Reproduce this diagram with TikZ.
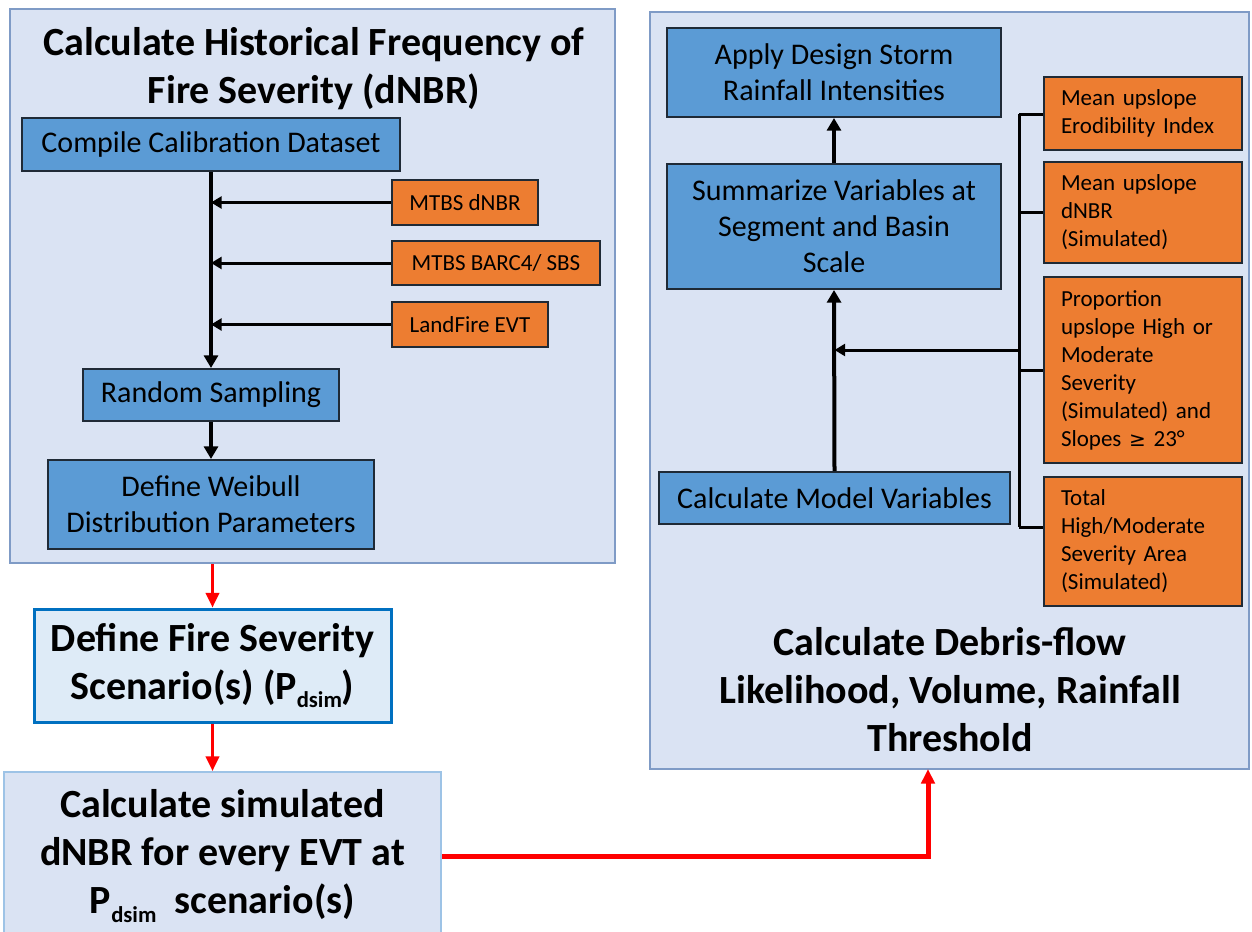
\documentclass[tikz,border=0pt]{standalone}
\usepackage{fontspec}
\setmainfont{Carlito}
\newfontfamily\symfont{DejaVu Sans}
\usetikzlibrary{arrows.meta}

\definecolor{panelfill}{HTML}{DAE3F3}
\definecolor{panelline}{HTML}{7F9BC6}
\definecolor{stepblue}{HTML}{5B9BD5}
\definecolor{steporange}{HTML}{ED7D31}
\definecolor{boxedge}{HTML}{1F2A36}
\definecolor{scenfill}{HTML}{DEEBF7}
\definecolor{scenline}{HTML}{0070C0}
\definecolor{simline}{HTML}{9DC3E6}
\definecolor{flowred}{HTML}{FF0000}

% lowered "dsim" index after P
\newcommand{\lowtxt}[1]{\raisebox{-0.45ex}{\fontsize{17pt}{17pt}\selectfont #1}}

\begin{document}
\begin{tikzpicture}[x=0.75pt,y=-0.75pt,
  panel/.style={draw=panelline, line width=1.5pt, fill=panelfill, inner sep=0pt},
  heading/.style={font=\fontsize{30pt}{36pt}\selectfont\bfseries, align=center, inner sep=0pt},
  stepbox/.style={draw=boxedge, line width=1.5pt, fill=stepblue, align=center,
    inner sep=0pt, font=\fontsize{22.5pt}{27pt}\selectfont},
  inputbox/.style={draw=boxedge, line width=1.5pt, fill=steporange, align=center,
    inner sep=0pt, font=\fontsize{17.25pt}{21pt}\selectfont},
  varbox/.style={inputbox, align=left, text width=123pt, inner xsep=12.75pt},
  feed/.style={-{Triangle[width=9pt,length=8pt]}, line width=2.25pt},
  flow/.style={-{Triangle[width=10.5pt,length=9.5pt]}, line width=3pt},
  bracket/.style={line width=2.25pt},
  redflow/.style={draw=flowred, -{Triangle[width=10pt,length=11pt]}, line width=2.25pt}
]
\useasboundingbox (0,0) rectangle (1252,931);
\fill[white] (0,0) rectangle (1252,931);

% ---------- left panel: historical fire severity ----------
\node[panel, minimum width=453.75pt, minimum height=415.5pt] (lpanel) at (312.5,286) {};
\node[heading] (ltitle) at (314,69) {Calculate Historical Frequency of\\Fire Severity (dNBR)};

\node[stepbox, minimum width=283.5pt, minimum height=39.75pt] (compile) at (211,144.5)
  {Compile Calibration Dataset};
\node[inputbox, minimum width=109.5pt, minimum height=33.75pt] (mtbs) at (465,202.5) {MTBS dNBR};
\node[inputbox, minimum width=156pt, minimum height=33pt] (barc) at (496,263) {MTBS BARC4/ SBS};
\node[inputbox, minimum width=117pt, minimum height=33.75pt] (evt) at (470,324.5) {LandFire EVT};
\node[stepbox, minimum width=192pt, minimum height=39pt] (random) at (211,395) {Random Sampling};
\node[stepbox, minimum width=244.5pt, minimum height=66.75pt] (weibull) at (211,504.5)
  {Define Weibull\\Distribution Parameters};

\draw[flow] (compile.south) -- (random.north);
\draw[feed] (mtbs.west) -- (compile.south |- mtbs.west);
\draw[feed] (barc.west) -- (compile.south |- barc.west);
\draw[feed] (evt.west) -- (compile.south |- evt.west);
\draw[flow] (random.south) -- (weibull.north);

% ---------- scenario boxes ----------
\node[draw=scenline, line width=2.25pt, fill=scenfill, heading,
  minimum width=267.75pt, minimum height=84.75pt] (fire) at (212.5,665.5)
  {Define Fire Severity\\Scenario(s) (P\lowtxt{dsim})};
\node[draw=simline, line width=1.5pt, fill=panelfill, heading,
  minimum width=327.75pt, minimum height=126pt] (sim) at (222.5,856)
  {Calculate simulated\\dNBR for every EVT at\\P\lowtxt{dsim}\ \ scenario(s)};

\draw[redflow] (fire.north |- lpanel.south) -- (fire.north);
\draw[redflow] (fire.south) -- (fire.south |- sim.north);

% ---------- right panel: debris-flow modelling ----------
\node[panel, minimum width=449.25pt, minimum height=567.75pt] (rpanel) at (949.5,390.5) {};
\node[heading] (rtitle) at (950,690) {Calculate Debris-flow\\Likelihood, Volume, Rainfall\\Threshold};

\node[stepbox, minimum width=250.5pt, minimum height=66.75pt] (apply) at (834,72.5)
  {Apply Design Storm\\Rainfall Intensities};
\node[stepbox, minimum width=250.5pt, minimum height=93.75pt] (summ) at (834,226.5)
  {Summarize Variables at\\Segment and Basin\\Scale};
\node[stepbox, minimum width=263.25pt, minimum height=39pt] (calcmv) at (834.5,498)
  {Calculate Model Variables};

\node[varbox, minimum height=54.75pt] (erod) at (1143,113.5)
  {Mean upslope\\Erodibility Index};
\node[varbox, minimum height=75.75pt] (mdnbr) at (1143,212.5)
  {Mean upslope\\dNBR\\(Simulated)};
\node[varbox, minimum height=139.5pt] (prop) at (1143,370)
  {Proportion\\upslope High or\\Moderate\\Severity\\(Simulated) and\\Slopes {\symfont\fontsize{15pt}{21pt}\selectfont ≥} 23°};
\node[varbox, minimum height=96.75pt] (area) at (1143,541.5)
  {Total\\High/Moderate\\Severity Area\\(Simulated)};

% bracket gathering the model variables
\coordinate (btop) at (1019,114);
\coordinate (bbot) at (1019,527);
\coordinate (bmid) at (1019,350);
\draw[bracket] (btop) -- (bbot);
\draw[bracket] (btop) -- (erod.west |- btop);
\draw[bracket] (btop |- mdnbr.west) -- (mdnbr.west);
\draw[bracket] (btop |- prop.west) -- (prop.west);
\draw[bracket] (bbot) -- (area.west |- bbot);
\draw[feed] (bmid) -- (calcmv.north |- bmid);

\draw[flow] (calcmv.north) -- (summ.south);
\draw[flow] (summ.north) -- (apply.south);

% hand-off from the simulated dNBR to the debris-flow models
\coordinate (rin) at (928,769);
\draw[redflow, line width=3.75pt] (sim.east) -| (rin);
\end{tikzpicture}
\end{document}
